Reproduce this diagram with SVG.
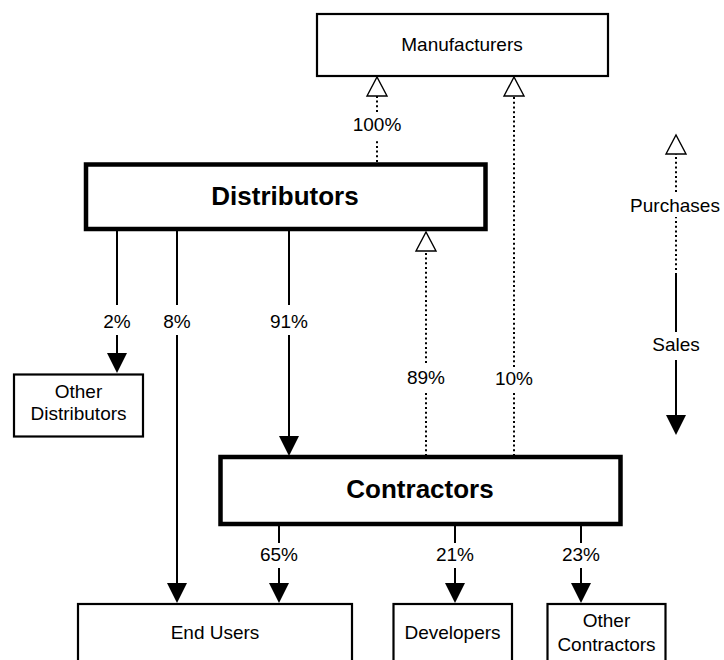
<svg xmlns="http://www.w3.org/2000/svg" width="724" height="660" viewBox="0 0 724 660">
<style>
text{font-family:"Liberation Sans",Arial,Helvetica,sans-serif;fill:#000;text-anchor:middle}
.t{font-size:19px}
.big{font-size:26px;font-weight:bold}
.box{fill:#fff;stroke:#000;stroke-width:2.2}
.bold{fill:#fff;stroke:#000;stroke-width:4.5}
.sale{stroke:#000;stroke-width:2;fill:none}
.buy{stroke:#000;stroke-width:2;stroke-dasharray:2 2.7;fill:none}
</style>
<defs>
<marker id="fa" viewBox="0 0 20 20" markerWidth="20" markerHeight="20" refX="0" refY="10" orient="auto" markerUnits="userSpaceOnUse">
<path d="M0,0 L20,10 L0,20 z" fill="#000"/>
</marker>
<marker id="oa" viewBox="0 -12 22 24" markerWidth="22" markerHeight="24" refX="1" refY="0" orient="auto" markerUnits="userSpaceOnUse">
<path d="M1,-10 L20,0 L1,10 z" fill="#fff" stroke="#000" stroke-width="1.4"/>
</marker>
</defs>
<g id="connectors">
<line class="buy" x1="377" y1="162" x2="377" y2="140"/>
<line class="buy" x1="377" y1="112" x2="377" y2="96" marker-end="url(#oa)"/>
<line class="buy" x1="514" y1="456" x2="514" y2="393"/>
<line class="buy" x1="514" y1="367" x2="514" y2="96" marker-end="url(#oa)"/>
<line class="buy" x1="426" y1="456" x2="426" y2="392"/>
<line class="buy" x1="426" y1="363" x2="426" y2="251" marker-end="url(#oa)"/>
<line class="sale" x1="117" y1="231" x2="117" y2="305"/>
<line class="sale" x1="117" y1="335" x2="117" y2="353" marker-end="url(#fa)"/>
<line class="sale" x1="177" y1="231" x2="177" y2="305"/>
<line class="sale" x1="177" y1="335" x2="177" y2="583" marker-end="url(#fa)"/>
<line class="sale" x1="289" y1="231" x2="289" y2="305"/>
<line class="sale" x1="289" y1="335" x2="289" y2="436" marker-end="url(#fa)"/>
<line class="sale" x1="279" y1="526" x2="279" y2="543"/>
<line class="sale" x1="279" y1="568" x2="279" y2="583" marker-end="url(#fa)"/>
<line class="sale" x1="455" y1="526" x2="455" y2="543"/>
<line class="sale" x1="455" y1="568" x2="455" y2="583" marker-end="url(#fa)"/>
<line class="sale" x1="581" y1="526" x2="581" y2="543"/>
<line class="sale" x1="581" y1="568" x2="581" y2="583" marker-end="url(#fa)"/>
<text class="t" x="377" y="131">100%</text>
<text class="t" x="514" y="385">10%</text>
<text class="t" x="426" y="384">89%</text>
<text class="t" x="117" y="328">2%</text>
<text class="t" x="177" y="328">8%</text>
<text class="t" x="289" y="328">91%</text>
<text class="t" x="279" y="561">65%</text>
<text class="t" x="455" y="561">21%</text>
<text class="t" x="581" y="561">23%</text>
</g>
<g id="legend">
<line class="buy" x1="676" y1="192" x2="676" y2="154" marker-end="url(#oa)"/>
<line class="buy" x1="676" y1="270" x2="676" y2="217"/>
<text class="t" x="675" y="212">Purchases</text>
<line class="sale" x1="676" y1="273" x2="676" y2="332"/>
<text class="t" x="676" y="351">Sales</text>
<line class="sale" x1="676" y1="360" x2="676" y2="415" marker-end="url(#fa)"/>
</g>
<g id="manufacturers">
<rect class="box" x="317" y="14" width="291" height="62"/>
<text class="t" x="462" y="51">Manufacturers</text>
</g>
<g id="distributors">
<rect class="bold" x="86" y="164.5" width="399.5" height="64.5"/>
<text class="big" x="285" y="205">Distributors</text>
</g>
<g id="other-distributors">
<rect class="box" x="14" y="374.5" width="129" height="62"/>
<text class="t" x="78.5" y="398">Other</text>
<text class="t" x="78.5" y="420">Distributors</text>
</g>
<g id="contractors">
<rect class="bold" x="220.5" y="457" width="400" height="67"/>
<text class="big" x="420" y="498">Contractors</text>
</g>
<g id="end-users">
<rect class="box" x="78" y="604" width="274" height="80"/>
<text class="t" x="215" y="639">End Users</text>
</g>
<g id="developers">
<rect class="box" x="393.5" y="604" width="118.5" height="80"/>
<text class="t" x="452.5" y="639">Developers</text>
</g>
<g id="other-contractors">
<rect class="box" x="547.5" y="604" width="118" height="80"/>
<text class="t" x="606.5" y="627">Other</text>
<text class="t" x="606.5" y="651">Contractors</text>
</g>
</svg>
